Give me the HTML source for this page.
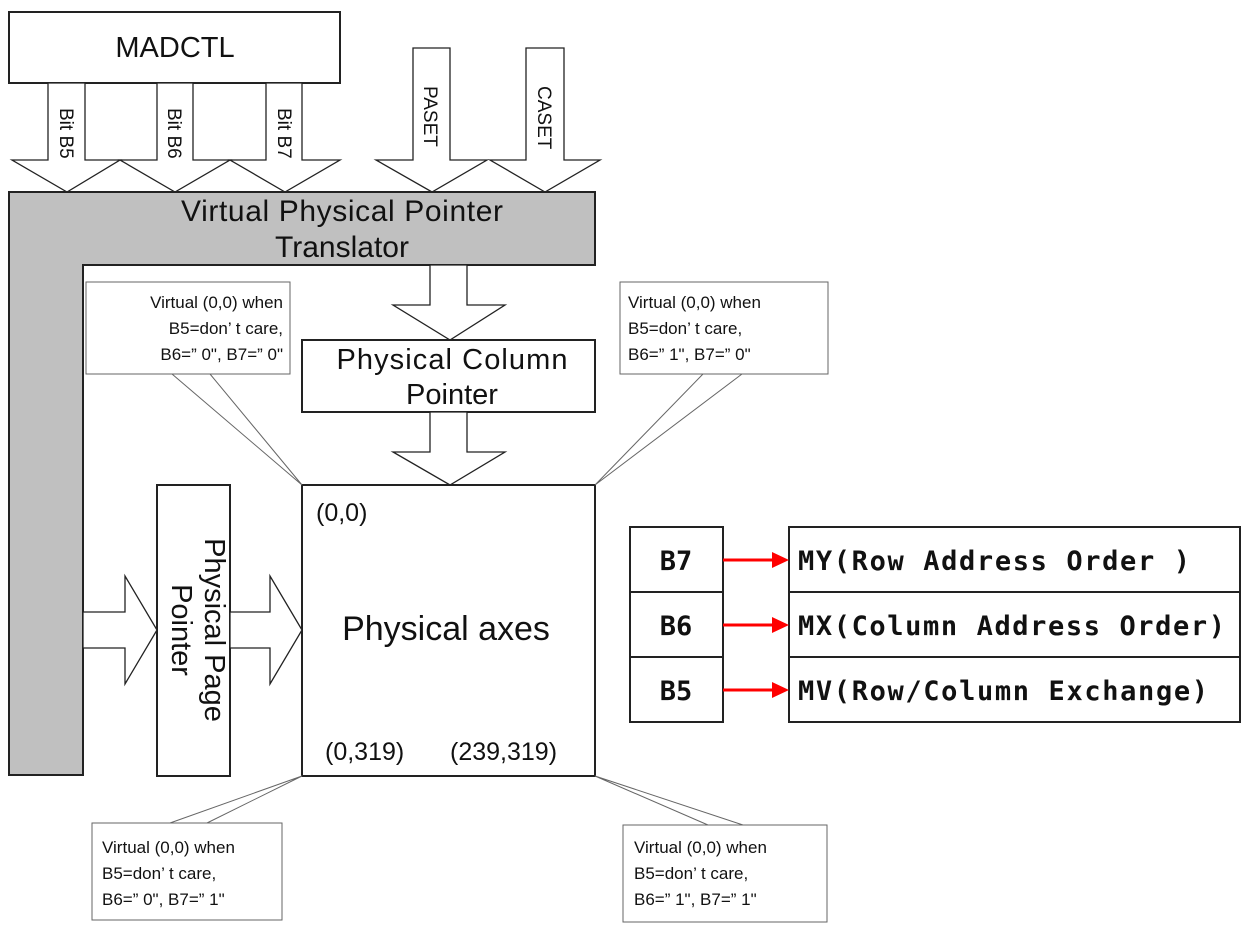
<!DOCTYPE html>
<html><head><meta charset="utf-8"><style>
html,body{margin:0;padding:0;background:#fff}
svg{display:block}
text{font-family:"Liberation Sans",sans-serif;fill:#111}
.m{font-family:"DejaVu Sans Mono","Liberation Mono",monospace;font-weight:bold}
</style></head><body>
<svg width="1246" height="927" viewBox="0 0 1246 927" xmlns="http://www.w3.org/2000/svg">
<g stroke="#222" stroke-width="1.3" fill="#fff">
<rect x="9" y="12" width="331" height="71" stroke-width="2"/>
<polygon points="48,83 85,83 85,160 120,160 67,192 12,160 48,160"/>
<polygon points="157,83 193,83 193,160 230,160 175,192 120,160 157,160"/>
<polygon points="266,83 302,83 302,160 340,160 285,192 230,160 266,160"/>
<polygon points="413,48 450,48 450,160 487,160 432,192 376,160 413,160"/>
<polygon points="526,48 564,48 564,160 600,160 545,192 490,160 526,160"/>
<polygon points="9,192 595,192 595,265 83,265 83,775 9,775" fill="#c0c0c0" stroke-width="2"/>
<polygon points="430,265 467,265 467,305 505,305 450,340 393,305 430,305"/>
<rect x="302" y="340" width="293" height="72" stroke-width="2"/>
<polygon points="430,412 467,412 467,452 505,452 450,485 393,452 430,452"/>
<rect x="302" y="485" width="293" height="291" stroke-width="2"/>
<rect x="157" y="485" width="73" height="291" stroke-width="2"/>
<polygon points="83,612 125,612 125,576 157,630 125,684 125,648 83,648"/>
<polygon points="230,612 270,612 270,576 302,630 270,684 270,648 230,648"/>
<g stroke="#666" stroke-width="1">
<rect x="86" y="282" width="204" height="92"/>
<polyline points="172,374 302,485 210,374" fill="none"/>
<rect x="620" y="282" width="208" height="92"/>
<polyline points="703,374 595,485 742,374" fill="none"/>
<rect x="92" y="823" width="190" height="97"/>
<polyline points="170,823 302,776 207,823" fill="none"/>
<rect x="623" y="825" width="204" height="97"/>
<polyline points="708,825 595,776 743,825" fill="none"/>
</g>
<g stroke-width="2">
<rect x="630" y="527" width="93" height="65"/><rect x="630" y="592" width="93" height="65"/><rect x="630" y="657" width="93" height="65"/>
<rect x="789" y="527" width="451" height="65"/><rect x="789" y="592" width="451" height="65"/><rect x="789" y="657" width="451" height="65"/>
</g>
</g>
<g stroke="#f00" stroke-width="3" fill="#f00">
<line x1="723" y1="560" x2="775" y2="560"/><polygon points="772,552 789,560 772,568" stroke="none"/>
<line x1="723" y1="625" x2="775" y2="625"/><polygon points="772,617 789,625 772,633" stroke="none"/>
<line x1="723" y1="690" x2="775" y2="690"/><polygon points="772,682 789,690 772,698" stroke="none"/>
</g>
<text x="175" y="57" font-size="29" text-anchor="middle">MADCTL</text>
<g font-size="19">
<text transform="translate(60,108) rotate(90)">Bit B5</text>
<text transform="translate(168,108) rotate(90)">Bit B6</text>
<text transform="translate(278,108) rotate(90)">Bit B7</text>
<text transform="translate(424,86) rotate(90)">PASET</text>
<text transform="translate(538,86) rotate(90)">CASET</text>
</g>
<text x="342" y="221" font-size="30" text-anchor="middle" textLength="322">Virtual Physical Pointer</text>
<text x="342" y="257" font-size="30" text-anchor="middle">Translator</text>
<text x="452" y="369" font-size="29" text-anchor="middle" textLength="231">Physical Column</text>
<text x="452" y="404" font-size="29" text-anchor="middle">Pointer</text>
<text transform="translate(205,630) rotate(90)" font-size="29" text-anchor="middle">Physical Page</text>
<text transform="translate(172,630) rotate(90)" font-size="29" text-anchor="middle">Pointer</text>
<text x="446" y="640" font-size="34" text-anchor="middle">Physical axes</text>
<text x="316" y="521" font-size="25">(0,0)</text>
<text x="325" y="760" font-size="25">(0,319)</text>
<text x="450" y="760" font-size="25">(239,319)</text>
<g font-size="17">
<text x="283" y="308" text-anchor="end">Virtual (0,0) when</text>
<text x="283" y="334" text-anchor="end">B5=don’ t care,</text>
<text x="283" y="360" text-anchor="end">B6=” 0", B7=” 0"</text>
<text x="628" y="308">Virtual (0,0) when</text>
<text x="628" y="334">B5=don’ t care,</text>
<text x="628" y="360">B6=” 1", B7=” 0"</text>
<text x="102" y="853">Virtual (0,0) when</text>
<text x="102" y="879">B5=don’ t care,</text>
<text x="102" y="905">B6=” 0", B7=” 1"</text>
<text x="634" y="853">Virtual (0,0) when</text>
<text x="634" y="879">B5=don’ t care,</text>
<text x="634" y="905">B6=” 1", B7=” 1"</text>
</g>
<g font-size="27">
<text class="m" x="676" y="570" text-anchor="middle">B7</text>
<text class="m" x="676" y="635" text-anchor="middle">B6</text>
<text class="m" x="676" y="700" text-anchor="middle">B5</text>
<text class="m" x="798" y="570" textLength="392">MY(Row Address Order )</text>
<text class="m" x="798" y="635" textLength="427">MX(Column Address Order)</text>
<text class="m" x="798" y="700" textLength="410">MV(Row/Column Exchange)</text>
</g>
</svg>
</body></html>
